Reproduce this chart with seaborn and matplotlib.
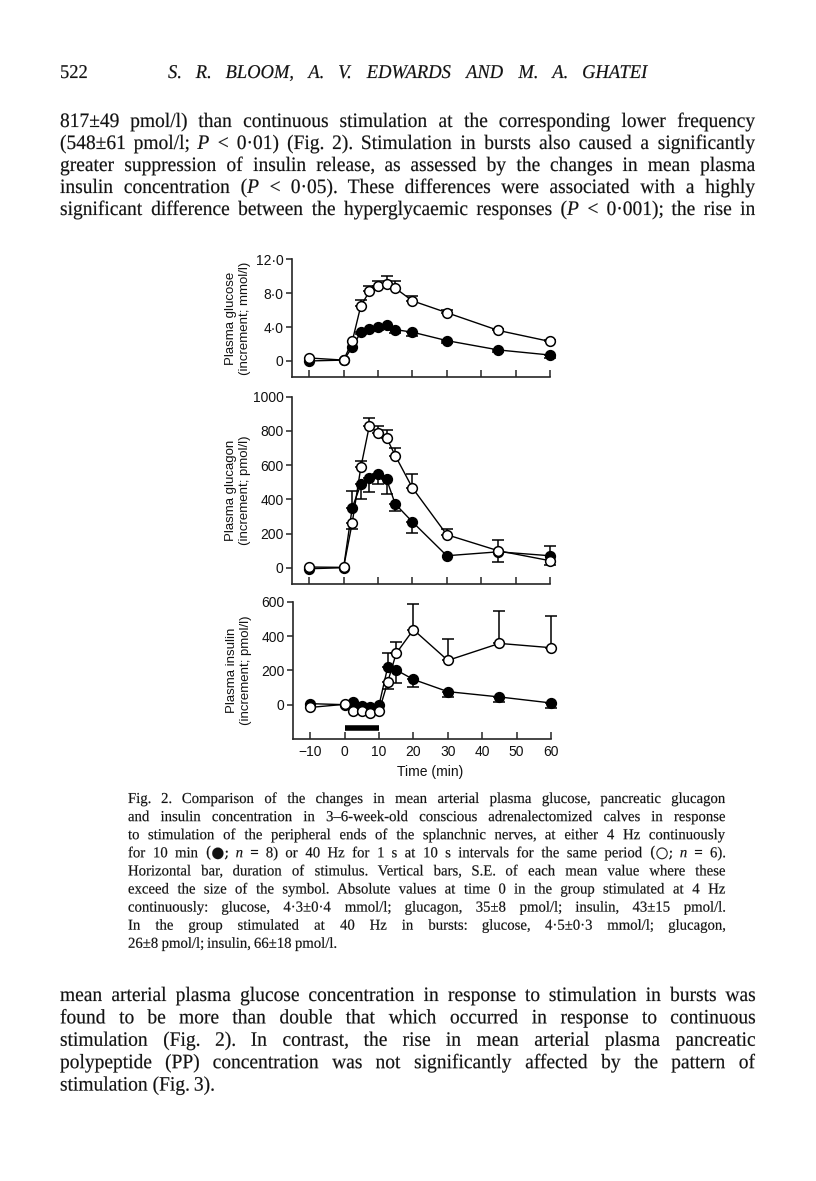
import numpy as np
import matplotlib
matplotlib.use("Agg")
import matplotlib.pyplot as plt
import seaborn as sns
from matplotlib.textpath import TextPath
from matplotlib.patches import PathPatch
from matplotlib.font_manager import FontProperties
from matplotlib.transforms import Affine2D

# time points (min) shared by all three panels
time = [-10, 0, 2.5, 5, 7.5, 10, 12.5, 15, 20, 30, 45, 60]

# increments; "cont" = 4 Hz continuous (filled), "burst" = 40 Hz bursts (open)
# side: u = bar drawn upward, d = downward, b = both, . = none (hidden by the symbol)
glucose_cont = [0.0, 0.1, 1.6, 3.4, 3.8, 4.0, 4.2, 3.7, 3.4, 2.4, 1.3, 0.7]
glucose_cont_se = [0, 0, 0, 0.2, 0.3, 0.4, 0.35, 0.35, 0.45, 0.3, 0.3, 0.3]
glucose_cont_side = "...ddddddddd"
glucose_burst = [0.35, 0.1, 2.3, 6.5, 8.2, 8.9, 9.1, 8.6, 7.1, 5.7, 3.6, 2.3]
glucose_burst_se = [0, 0, 0, 0.75, 0.7, 0.5, 0.9, 0.8, 0.6, 0.3, 0.2, 0.15]
glucose_burst_side = "...uuuuuuuuu"

glucagon_cont = [-6, 0, 350, 487, 526, 550, 517, 373, 268, 70, 93, 70]
glucagon_cont_se = [0, 0, 100, 84, 83, 62, 84, 43, 64, 0, 0, 55]
glucagon_cont_side = "..uddddddd.b"
glucagon_burst = [4, 2, 262, 586, 831, 786, 759, 656, 467, 193, 99, 41]
glucagon_burst_se = [0, 0, 37, 39, 43, 45, 47, 43, 82, 33, 65, 0]
glucagon_burst_side = "..duuuuuuub."

insulin_cont = [6, 0, 17, -8, -14, -4, 217, 202, 147, 76, 45, 10]
insulin_cont_se = [0, 0, 0, 0, 0, 0, 82, 74, 43, 33, 31, 29]
insulin_cont_side = "......uddddd"
insulin_burst = [-16, 2, -39, -37, -49, -39, 130, 299, 437, 258, 357, 332]
insulin_burst_se = [0, 0, 0, 0, 8, 0, 40, 66, 147, 122, 189, 186]
insulin_burst_side = "....d.duuuuu"

stim_period = [0, 10]
stim_level = -135

x_ticks = [-10, 0, 10, 20, 30, 40, 50, 60]
x_ticklabels = ["\u221210", "0", "10", "20", "30", "40", "50", "60"]

# page text
head_page = "522"
head_title = "S. R. BLOOM, A. V. EDWARDS AND M. A. GHATEI"
para_top = [
    "817±49 pmol/l) than continuous stimulation at the corresponding lower frequency",
    "(548±61 pmol/l; $P$ < 0·01) (Fig. 2). Stimulation in bursts also caused a significantly",
    "greater suppression of insulin release, as assessed by the changes in mean plasma",
    "insulin concentration ($P$ < 0·05). These differences were associated with a highly",
    "significant difference between the hyperglycaemic responses ($P$ < 0·001); the rise in",
]
caption = [
    "Fig. 2. Comparison of the changes in mean arterial plasma glucose, pancreatic glucagon",
    "and insulin concentration in 3–6-week-old conscious adrenalectomized calves in response",
    "to stimulation of the peripheral ends of the splanchnic nerves, at either 4 Hz continuously",
    "for 10 min (●; $n$ = 8) or 40 Hz for 1 s at 10 s intervals for the same period (○; $n$ = 6).",
    "Horizontal bar, duration of stimulus. Vertical bars, S.E. of each mean value where these",
    "exceed the size of the symbol. Absolute values at time 0 in the group stimulated at 4 Hz",
    "continuously: glucose, 4·3±0·4 mmol/l; glucagon, 35±8 pmol/l; insulin, 43±15 pmol/l.",
    "In the group stimulated at 40 Hz in bursts: glucose, 4·5±0·3 mmol/l; glucagon,",
    "26±8 pmol/l; insulin, 66±18 pmol/l.",
]
para_bottom = [
    "mean arterial plasma glucose concentration in response to stimulation in bursts was",
    "found to be more than double that which occurred in response to continuous",
    "stimulation (Fig. 2). In contrast, the rise in mean arterial plasma pancreatic",
    "polypeptide (PP) concentration was not significantly affected by the pattern of",
    "stimulation (Fig. 3).",
]

sns.set_style("ticks")
plt.rcParams["font.family"] = ["Liberation Sans", "DejaVu Sans"]
plt.rcParams["mathtext.fontset"] = "custom"
plt.rcParams["mathtext.rm"] = "Liberation Serif"
plt.rcParams["mathtext.it"] = "Liberation Serif:italic"

W, H = 816, 1181
fig = plt.figure(figsize=(W / 100, H / 100), dpi=100)
fig.patch.set_facecolor("white")


def fx(px):
    return px / W


def fy(py):
    return 1 - py / H


def add_axes(top, bottom, left=292, right=550):
    return fig.add_axes([fx(left), fy(bottom), (right - left) / W, (bottom - top) / H])


def draw_series(ax, y, se, side, face, z):
    sns.lineplot(x=time, y=y, ax=ax, color="k", linewidth=1.0, marker="o",
                 markersize=7, markerfacecolor=face, markeredgecolor="k",
                 markeredgewidth=1.1, clip_on=False, zorder=z, legend=False)
    xs, ys, lo, hi = [], [], [], []
    for t, v, e, s in zip(time, y, se, side):
        if e <= 0 or s == ".":
            continue
        xs.append(t)
        ys.append(v)
        lo.append(e if s in "db" else 0)
        hi.append(e if s in "ub" else 0)
    ax.errorbar(xs, ys, yerr=[lo, hi], fmt="none", ecolor="k", elinewidth=1.1,
                capsize=4, capthick=1.1, zorder=z - 0.5, clip_on=False)


def style_axes(ax, ylim, yticks, yticklabels, ylabel, show_x=False):
    ax.set_xlim(-15, 60)
    ax.set_ylim(*ylim)
    ax.set_xticks(x_ticks)
    ax.set_yticks(yticks)
    ax.set_yticklabels(yticklabels)
    sns.despine(ax=ax)
    for sp in ("left", "bottom"):
        ax.spines[sp].set_linewidth(1.2)
    ax.tick_params(axis="x", direction="in", length=5, width=1.1, labelsize=10,
                   pad=4, labelbottom=show_x, labelcolor="#111111")
    ax.tick_params(axis="y", direction="out", length=4, width=1.1, labelsize=10, pad=2,
                   labelcolor="#111111")
    if show_x:
        ax.set_xticklabels(x_ticklabels)
    ax.set_ylabel(ylabel, fontsize=9.5, linespacing=1.2, color="#111111")
    ax.yaxis.set_label_coords(-0.158, 0.5)
    ax.set_xlabel("")
    ax.patch.set_alpha(0)


# glucose
ax1 = add_axes(259.3, 377.3)
draw_series(ax1, glucose_cont, glucose_cont_se, glucose_cont_side, "k", 3)
draw_series(ax1, glucose_burst, glucose_burst_se, glucose_burst_side, "white", 4)
style_axes(ax1, (-1.93, 12), [0, 4, 8, 12], ["0", "4·0", "8·0", "12·0"],
           "Plasma glucose\n(increment; mmol/l)")

# glucagon
ax2 = add_axes(396.7, 584.3)
draw_series(ax2, glucagon_cont, glucagon_cont_se, glucagon_cont_side, "k", 3)
draw_series(ax2, glucagon_burst, glucagon_burst_se, glucagon_burst_side, "white", 4)
style_axes(ax2, (-97, 1000), [0, 200, 400, 600, 800, 1000],
           ["0", "200", "400", "600", "800", "1000"],
           "Plasma glucagon\n(increment; pmol/l)")

# insulin
ax3 = add_axes(601.7, 739, left=293, right=551)
draw_series(ax3, insulin_cont, insulin_cont_se, insulin_cont_side, "k", 3)
draw_series(ax3, insulin_burst, insulin_burst_se, insulin_burst_side, "white", 4)
ax3.plot(stim_period, [stim_level, stim_level], color="k", linewidth=4, solid_capstyle="butt")
style_axes(ax3, (-200, 600), [0, 200, 400, 600], ["0", "200", "400", "600"],
           "Plasma insulin\n(increment; pmol/l)", show_x=True)
ax3.set_xlabel("Time (min)", fontsize=10, color="#111111")
ax3.xaxis.set_label_coords(0.53, -0.19)


# page text: words drawn as glyph outlines in pixel space so lines can be justified
def word_path(w, size, italic=False):
    fam = "DejaVu Serif" if any(c in w for c in "●○") else "Liberation Serif"
    prop = FontProperties(family=fam, style="italic" if italic else "normal")
    return TextPath((0, 0), w, size=size, prop=prop)


def put_path(path, x, base, sx):
    tr = Affine2D().scale(sx, 1).translate(x, H - base)
    fig.add_artist(PathPatch(path, transform=tr, facecolor="#111111",
                             edgecolor="#111111", linewidth=0.12))


def text_line(words, x0, x1, base, size, sx=1.0, justify=True, italic=False):
    paths = [word_path(w, size, italic) for w in words]
    widths = [p.get_extents().x1 * sx for p in paths]
    if justify and len(words) > 1:
        gap = (x1 - x0 - sum(widths)) / (len(words) - 1)
    else:
        gap = 0.27 * size * sx
    x = x0
    for p, w in zip(paths, widths):
        put_path(p, x, base, sx)
        x += w + gap


def text_block(lines, x0, x1, base0, step, size, sx=1.0, justify_last=False):
    for i, line in enumerate(lines):
        last = i == len(lines) - 1
        text_line(line.split(" "), x0, x1, base0 + i * step, size, sx,
                  justify=(not last) or justify_last)


text_line([head_page], 60, 60, 78, 19.5, 0.95, justify=False)
text_line(head_title.split(" "), 168, 648, 78, 19.5, 0.95, italic=True)

text_block(para_top, 60, 755, 127, 22, 20.5, 0.95, justify_last=True)
text_block(caption, 128, 725, 803, 18.1, 15.2, 0.97)
text_block(para_bottom, 60, 755, 1001, 22.4, 20.5, 0.95)

fig.savefig("out.png", dpi=100, facecolor="white")
